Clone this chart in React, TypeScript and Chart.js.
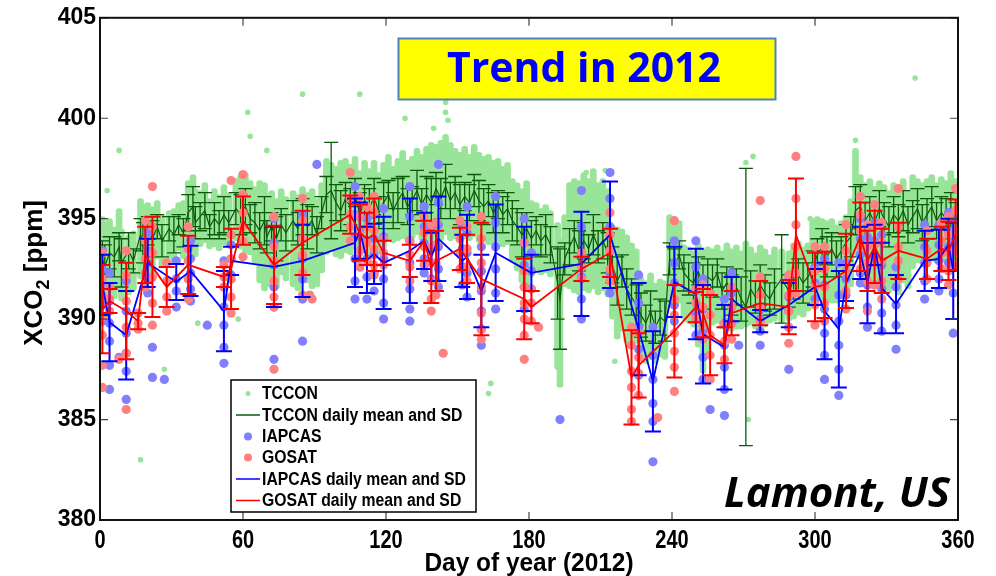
import React, { useEffect, useRef } from "react";
import { Chart, registerables } from "chart.js";

Chart.register(...registerables);

// ---------------- data ----------------
const xTickValues = [0, 60, 120, 180, 240, 300, 360];
const yTickValues = [380, 385, 390, 395, 400, 405];

// TCCON daily statistics (day of year, mean, SD) and the extent of the dense dot column per day
const tcconDays = [
  1, 2, 4, 6, 8, 9, 12, 14, 17, 18,
  20, 22, 24, 26, 29, 31, 33, 35, 37, 39,
  40, 42, 44, 46, 48, 50, 52, 54, 57, 59,
  61, 63, 65, 67, 69, 70, 72, 74, 76, 78,
  81, 83, 85, 87, 89, 91, 93, 95, 97, 99,
  101, 103, 105, 107, 109, 111, 113, 115, 117, 119,
  121, 123, 125, 127, 129, 131, 133, 135, 137, 139,
  141, 143, 145, 147, 149, 151, 153, 155, 157, 159,
  161, 163, 165, 167, 169, 171, 173, 175, 177, 179,
  181, 183, 185, 187, 189, 192, 193, 195, 197, 199,
  201, 203, 205, 207, 209, 211, 213, 215, 217, 219,
  221, 223, 225, 227, 229, 231, 233, 235, 237, 239,
  241, 243, 245, 247, 249, 251, 253, 255, 257, 259,
  261, 263, 265, 267, 269, 271, 273, 275, 277, 279,
  281, 283, 286, 289, 291, 293, 295, 297, 299, 301,
  303, 305, 307, 309, 311, 313, 315, 317, 319, 321,
  323, 325, 327, 329, 331, 333, 335, 337, 339, 341,
  343, 345, 347, 349, 351, 353, 355, 357, 359,
];
const tcconMean = [
  393.0, 392.6, 393.3, 393.1, 393.6, 392.8, 393.4, 392.9, 394.2, 393.8,
  394.4, 394.0, 394.6, 393.9, 394.5, 394.2, 394.7, 394.3, 395.3, 395.6,
  394.8, 395.1, 395.4, 394.6, 395.0, 394.7, 395.2, 394.8, 395.5, 395.2,
  395.6, 395.0, 394.8, 394.4, 394.9, 394.1, 394.6, 394.0, 394.7, 394.3,
  394.9, 394.5, 395.1, 394.6, 394.9, 394.2, 395.3, 396.2, 396.4, 395.8,
  395.4, 396.0, 395.6, 396.3, 395.2, 395.9, 395.5, 396.1, 395.3, 395.8,
  396.2, 395.4, 395.9, 396.3, 395.6, 395.9, 396.4, 395.7, 396.2, 395.8,
  396.5, 396.0, 396.6, 395.9, 396.3, 395.7, 396.1, 395.8, 396.4, 395.9,
  395.6, 395.9, 395.3, 395.7, 395.2, 395.5, 394.9, 394.6, 394.2, 394.5,
  394.0, 394.4, 393.9, 394.2, 393.7, 391.8, 391.0, 393.0, 393.6, 394.1,
  393.4, 393.9, 393.5, 394.2, 393.6, 393.9, 393.3, 392.7, 391.9, 392.4,
  391.5, 391.1, 390.7, 390.2, 389.8, 390.4, 389.6, 390.1, 389.9, 393.0,
  392.6, 393.2, 392.3, 392.0, 391.8, 392.4, 391.6, 392.1, 391.9, 392.3,
  391.4, 391.8, 391.2, 391.6, 391.0, 390.6, 391.5, 391.1, 391.7, 391.3,
  391.0, 391.5, 392.0, 391.4, 391.9, 392.2, 391.8, 392.1, 392.5, 393.2,
  393.6, 393.1, 393.5, 393.0, 393.4, 393.8, 394.1, 395.4, 395.6, 394.9,
  395.3, 394.8, 395.5, 395.0, 394.6, 395.2, 394.9, 395.4, 394.7, 395.1,
  395.5, 394.8, 395.2, 395.6, 394.9, 395.3, 395.0, 395.4, 394.8,
];
const tcconSD = [
  0.9, 1.1, 0.8, 1.0, 0.7, 1.2, 0.9, 0.6, 0.8, 1.0,
  0.7, 0.9, 0.6, 0.8, 0.6, 0.9, 0.5, 0.7, 0.9, 1.0,
  0.8, 0.7, 0.9, 0.6, 0.8, 0.7, 0.9, 0.6, 0.8, 1.0,
  0.9, 0.7, 1.0, 0.9, 1.2, 0.8, 0.7, 1.1, 0.8, 0.9,
  1.0, 0.8, 0.9, 1.1, 0.7, 0.9, 0.8, 0.9, 2.4, 0.9,
  1.0, 0.8, 0.9, 0.7, 1.1, 0.8, 1.0, 0.9, 0.8, 1.0,
  0.7, 0.9, 1.1, 0.8, 0.9, 0.7, 1.0, 0.8, 0.9, 1.2,
  0.8, 1.0, 1.1, 0.9, 0.8, 1.0, 0.7, 0.9, 0.8, 1.0,
  0.9, 0.8, 1.0, 0.7, 0.9, 0.8, 1.0, 0.9, 1.1, 0.8,
  0.9, 0.7, 0.8, 1.0, 0.9, 1.8, 2.5, 0.8, 0.9, 0.8,
  1.0, 0.9, 0.7, 1.0, 0.8, 0.9, 1.0, 0.9, 1.2, 0.8,
  1.0, 0.9, 1.0, 1.1, 0.9, 1.0, 0.8, 0.9, 1.0, 0.8,
  0.9, 0.7, 0.9, 0.8, 1.0, 0.7, 1.1, 0.9, 0.8, 0.7,
  0.9, 0.8, 1.0, 0.9, 1.1, 6.9, 0.9, 0.8, 1.0, 0.9,
  0.8, 1.0, 2.2, 0.8, 0.9, 0.8, 1.0, 0.7, 0.9, 0.8,
  0.9, 1.0, 0.8, 0.9, 0.7, 0.9, 1.0, 1.2, 1.1, 0.9,
  0.8, 1.0, 0.9, 0.8, 1.0, 0.9, 0.8, 1.0, 0.9, 0.8,
  1.0, 0.9, 0.8, 1.0, 0.9, 0.8, 1.0, 0.9, 1.0,
];
const tcconLo = [
  390.8, 390.5, 391.2, 391.0, 391.5, 390.9, 391.2, 391.4, 392.0, 392.1,
  392.4, 392.3, 393.0, 392.6, 393.0, 392.8, 393.4, 393.0, 393.5, 393.6,
  393.1, 393.6, 393.8, 393.5, 393.6, 393.4, 393.7, 393.6, 393.9, 393.5,
  393.3, 393.2, 392.8, 391.8, 391.4, 391.6, 392.0, 391.5, 392.2, 391.9,
  391.6, 391.4, 392.0, 391.8, 391.5, 391.6, 392.3, 393.2, 393.4, 393.1,
  393.0, 393.3, 393.2, 393.5, 393.1, 393.4, 393.2, 393.6, 393.3, 393.5,
  393.9, 393.8, 393.9, 394.0, 393.9, 394.0, 394.2, 393.9, 394.0, 393.8,
  394.1, 393.9, 394.2, 393.9, 394.0, 393.8, 394.0, 393.9, 394.1, 393.8,
  393.9, 393.7, 393.7, 393.8, 393.6, 393.7, 392.9, 392.4, 391.8, 391.4,
  392.1, 392.4, 392.2, 392.3, 392.1, 387.5, 386.6, 391.6, 391.5, 391.3,
  391.2, 391.4, 391.3, 391.5, 391.2, 391.4, 391.1, 390.0, 389.0, 389.4,
  388.8, 388.9, 388.8, 388.2, 387.8, 388.0, 387.8, 388.1, 388.0, 390.6,
  390.5, 390.8, 390.0, 389.8, 389.6, 388.6, 387.3, 388.2, 389.7, 389.8,
  389.5, 389.6, 389.4, 389.5, 389.5, 389.6, 389.7, 389.5, 389.8, 389.6,
  389.8, 389.9, 389.8, 389.9, 390.0, 390.2, 390.1, 390.4, 391.0, 391.1,
  391.0, 390.9, 390.8, 390.8, 391.0, 391.2, 391.6, 393.1, 393.0, 392.0,
  391.8, 391.6, 391.7, 391.5, 391.3, 391.6, 391.2, 391.8, 391.5, 392.5,
  392.8, 392.7, 392.7, 392.9, 392.8, 392.9, 392.8, 393.0, 392.9,
];
const tcconHi = [
  395.1, 394.8, 395.0, 394.6, 395.5, 394.5, 394.2, 394.4, 396.0, 395.7,
  395.8, 395.6, 395.9, 395.2, 395.4, 395.5, 395.8, 395.9, 396.9, 397.2,
  396.5, 396.4, 396.8, 396.0, 396.5, 396.2, 396.7, 396.3, 397.0, 397.2,
  397.3, 396.9, 396.6, 396.9, 396.8, 396.2, 396.4, 396.0, 396.5, 396.1,
  396.4, 396.2, 396.6, 396.3, 396.5, 396.0, 396.8, 398.0, 397.8, 397.6,
  397.9, 398.0, 397.7, 398.1, 397.4, 397.9, 397.5, 397.9, 397.3, 397.8,
  398.2, 397.6, 398.0, 398.4, 397.9, 398.1, 398.5, 398.2, 398.6, 398.8,
  398.7, 398.9, 399.2, 398.8, 398.5, 398.3, 398.6, 398.2, 398.7, 398.3,
  398.1, 398.2, 397.9, 398.0, 397.6, 397.8, 397.0, 396.8, 396.5, 396.9,
  395.9, 395.8, 395.5, 395.7, 395.4, 394.8, 394.0, 395.2, 396.8, 397.0,
  396.9, 397.3, 397.0, 397.5, 396.8, 397.0, 396.5, 394.7, 394.6, 394.5,
  394.2, 393.8, 393.5, 392.1, 391.9, 392.3, 391.8, 392.0, 391.9, 395.2,
  395.0, 394.9, 393.7, 393.6, 393.4, 393.8, 393.5, 393.6, 393.5, 393.7,
  393.4, 393.8, 393.5, 393.7, 393.4, 393.9, 393.6, 393.3, 393.7, 393.5,
  393.2, 393.6, 393.5, 393.4, 393.8, 393.9, 393.6, 393.8, 395.0, 395.1,
  395.0, 394.9, 395.0, 394.7, 394.9, 395.2, 396.0, 398.5, 397.2, 396.8,
  397.0, 396.6, 396.9, 396.7, 396.4, 396.8, 396.5, 397.0, 396.4, 397.2,
  397.0, 396.8, 397.0, 397.2, 396.8, 397.1, 396.9, 397.4, 397.0,
];
// isolated TCCON soundings away from the dense columns
const tcconOutDays = [3, 8, 17, 27, 41, 58, 62, 63, 70, 85, 109, 128, 140, 145, 145, 146, 164, 163, 204, 212, 216, 271, 274, 272, 298, 317, 342];
const tcconOutVals = [396.4, 398.4, 383.0, 387.5, 389.8, 390.0, 400.3, 399.1, 398.4, 401.2, 401.2, 400.0, 399.5, 400.8, 400.3, 399.9, 386.8, 386.3, 397.3, 397.4, 387.9, 397.8, 398.1, 385.0, 395.0, 398.9, 402.0];

// IAPCAS daily statistics and the soundings of each day
const iapcasDays = [
  1, 4, 11, 20, 32, 38, 52, 55, 73, 85,
  107, 109, 112, 115, 119, 130, 136, 139, 142, 152,
  154, 160, 166, 178, 181, 202, 214, 226, 232, 241,
  250, 253, 262, 265, 277, 289, 300, 304, 310, 313,
  319, 322, 325, 328, 334, 346, 352, 356, 358,
];
const iapcasMean = [
  391.7, 389.85, 389.2, 392.8, 391.85, 392.4, 390.4, 392.9, 392.6, 392.9,
  393.8, 394.4, 392.95, 393.25, 392.8, 393.4, 393.9, 393.1, 394.0, 392.9,
  393.1, 391.4, 393.3, 392.5, 392.3, 392.75, 394.2, 389.5, 386.9, 391.85,
  391.25, 389.25, 388.6, 391.0, 389.9, 390.7, 391.6, 390.4, 389.5, 391.8,
  393.3, 391.8, 393.7, 391.55, 390.75, 392.9, 393.0, 393.7, 392.4,
];
const iapcasSD = [
  1.5, 1.95, 2.2, 1.2, 0.9, 1.25, 2.0, 0.7, 2.0, 1.8,
  2.2, 1.4, 1.65, 1.5, 2.3, 2.6, 1.4, 1.2, 2.1, 1.3,
  2.1, 1.8, 2.4, 2.1, 0.9, 2.6, 2.65, 2.3, 2.5, 1.75,
  2.25, 2.45, 2.1, 1.1, 0.55, 1.1, 0.9, 2.4, 2.9, 0.9,
  1.3, 2.0, 1.0, 2.25, 1.45, 1.5, 1.45, 1.3, 2.4,
];
const iapcasObs = [
  [393.4, 392.5, 391.7, 390.7, 389.9], [392.3, 390.9, 389.8, 388.9, 387.7, 386.5],
  [391.9, 390.4, 389.3, 388.3, 387.4, 386.0], [394.3, 393.4, 392.8, 392.0, 391.3],
  [392.9, 392.0, 391.4, 390.6], [393.9, 393.0, 392.3, 391.5, 390.9],
  [392.9, 391.6, 390.6, 389.7, 388.6, 387.8], [393.7, 393.0, 392.2],
  [395.0, 393.8, 392.7, 391.6, 390.6, 388.0], [395.2, 394.0, 393.0, 392.0, 391.0, 388.9],
  [396.6, 395.2, 394.1, 393.0, 391.9, 391.0], [396.1, 395.1, 394.3, 393.4, 392.6],
  [395.0, 393.9, 393.0, 392.1, 391.0], [395.2, 394.0, 393.2, 392.3, 391.4],
  [395.5, 394.1, 393.0, 392.0, 390.8, 390.0], [396.6, 395.1, 393.9, 392.8, 391.5, 390.5, 389.9],
  [395.6, 394.6, 393.8, 393.0, 392.3], [394.6, 393.5, 392.8, 392.0],
  [397.7, 395.8, 394.7, 393.6, 392.5, 391.6], [394.6, 393.5, 392.6, 391.7],
  [395.6, 394.3, 393.3, 392.3, 391.1], [393.6, 392.4, 391.4, 390.4, 389.5, 388.7],
  [396.1, 394.8, 393.6, 392.5, 391.3, 390.5], [395.0, 393.8, 392.7, 391.6, 390.5],
  [393.3, 392.4, 391.5], [396.4, 394.6, 393.2, 392.1, 391.0, 390.0],
  [397.3, 396.0, 394.6, 393.4, 392.3, 391.3], [392.2, 390.8, 389.6, 388.5, 387.2],
  [389.6, 388.2, 387.0, 385.8, 384.9, 382.9], [393.9, 392.8, 391.8, 390.7, 389.9],
  [393.9, 392.6, 391.4, 390.2, 389.2], [392.0, 390.5, 389.4, 388.1, 387.0],
  [391.0, 389.8, 388.7, 387.6, 386.5, 385.2], [392.3, 391.3, 390.6, 389.8],
  [390.5, 390.0, 389.4, 388.7], [392.0, 391.1, 390.4, 389.6, 387.5],
  [392.6, 391.8, 391.0], [393.0, 391.7, 390.5, 389.3, 388.2, 387.0],
  [392.8, 391.2, 389.9, 388.7, 387.5, 386.2], [392.8, 392.0, 391.2],
  [395.0, 394.0, 393.2, 392.3, 391.8], [394.1, 392.8, 391.7, 390.6, 389.6],
  [394.8, 393.9, 393.1], [394.2, 392.7, 391.5, 390.3, 389.4],
  [392.6, 391.6, 390.7, 389.7, 388.5], [394.7, 393.6, 392.8, 391.9, 391.0],
  [394.7, 393.7, 392.9, 392.0, 391.4], [395.3, 394.4, 393.6, 392.8],
  [395.0, 393.8, 392.6, 391.3, 389.3],
];
const iapcasExtraDays = [22, 22, 27, 45, 91, 193, 256, 268, 8];
const iapcasExtraVals = [388.6, 387.1, 387.0, 389.7, 397.7, 385.0, 385.5, 388.7, 388.1];

// GOSAT daily statistics and the soundings of each day
const gosatDays = [
  1, 4, 11, 16, 19, 22, 28, 37, 52, 55,
  60, 73, 85, 105, 109, 112, 115, 119, 130, 136,
  139, 141, 151, 154, 160, 178, 181, 202, 214, 223,
  226, 241, 250, 253, 256, 262, 265, 277, 289, 292,
  300, 304, 313, 319, 322, 325, 328, 335, 347, 353,
  356, 359,
];
const gosatMean = [
  390.5, 390.9, 390.4, 389.9, 393.2, 392.6, 391.6, 392.7, 392.1, 392.5,
  394.9, 392.7, 393.8, 395.2, 394.3, 394.0, 394.2, 393.3, 392.9, 393.9,
  392.6, 392.9, 393.5, 393.0, 392.0, 391.0, 390.6, 392.5, 393.3, 387.1,
  387.7, 389.4, 390.6, 390.3, 389.2, 388.7, 390.3, 390.8, 390.6, 394.2,
  391.6, 391.7, 392.4, 394.1, 392.9, 393.6, 392.9, 393.4, 393.0, 393.5,
  393.4, 394.2,
];
const gosatSD = [
  2.2, 0.6, 2.4, 0.4, 1.4, 2.5, 1.0, 1.45, 0.5, 2.0,
  1.2, 1.95, 1.6, 0.95, 1.4, 1.3, 1.8, 0.6, 0.8, 1.0,
  1.8, 1.5, 1.05, 1.2, 2.8, 2.0, 0.8, 0.6, 1.2, 2.35,
  1.6, 2.3, 0.75, 1.2, 2.0, 0.9, 1.1, 1.1, 1.35, 2.8,
  1.7, 1.65, 1.85, 1.7, 1.5, 1.8, 1.6, 1.4, 1.0, 1.1,
  1.45, 1.75,
];
const gosatObs = [
  [393.3, 392.0, 391.2, 390.1, 389.2, 387.7, 386.6], [391.6, 391.0, 390.4],
  [393.4, 392.2, 390.9, 389.6, 388.3, 385.5], [390.3, 389.8, 389.5],
  [394.9, 393.9, 393.0, 392.3, 391.6], [396.6, 394.6, 393.3, 392.1, 390.8, 389.7],
  [392.8, 391.9, 391.1, 390.4], [394.6, 393.5, 392.9, 392.0, 391.0],
  [392.7, 392.1, 391.6], [396.9, 394.2, 393.0, 392.0, 391.1, 390.3],
  [397.2, 396.2, 395.3, 394.6, 393.9, 393.1], [395.1, 393.6, 392.9, 391.9, 391.1, 390.6, 387.5],
  [396.0, 394.9, 394.0, 393.2, 392.3, 391.2], [397.3, 396.0, 395.2, 394.6, 393.9],
  [396.1, 395.1, 394.2, 393.4, 392.6], [395.6, 394.6, 393.8, 392.9],
  [396.1, 395.3, 394.4, 393.5, 392.7, 392.2], [394.0, 393.3, 392.7],
  [393.9, 393.2, 392.6, 391.9], [395.1, 394.3, 393.6, 392.7],
  [394.7, 393.6, 392.8, 391.9, 391.0, 390.4], [394.8, 393.7, 392.8, 391.9, 391.2],
  [394.9, 394.0, 393.3, 392.5], [394.6, 393.5, 392.6, 391.9],
  [395.1, 394.0, 392.8, 391.6, 390.3, 389.5, 389.0], [393.8, 392.4, 391.6, 390.8, 390.0, 389.2, 388.0],
  [391.5, 390.8, 389.9], [393.3, 392.6, 392.0],
  [395.3, 394.2, 393.4, 392.5, 391.9], [389.6, 388.7, 387.4, 386.6, 385.5, 384.9],
  [389.3, 388.1, 387.3, 386.2], [394.9, 391.0, 390.2, 389.3, 388.4, 387.6, 386.4],
  [391.5, 390.8, 390.0], [391.7, 390.6, 389.7, 389.0],
  [391.3, 390.2, 389.2, 388.2, 387.0], [389.8, 388.9, 388.0],
  [391.6, 390.6, 389.8, 389.0], [395.9, 392.1, 391.2, 390.6, 389.9],
  [392.2, 391.2, 390.4, 389.6, 388.8], [398.1, 396.0, 394.7, 393.6, 392.3, 391.3],
  [393.6, 392.4, 391.6, 390.7, 389.7], [393.6, 392.5, 391.6, 390.8, 389.9],
  [394.7, 393.4, 392.4, 391.4, 390.5], [396.1, 395.2, 394.4, 393.6, 392.5],
  [394.7, 393.6, 392.8, 391.9, 390.4], [395.7, 394.6, 393.7, 392.8, 391.7],
  [394.8, 393.8, 392.9, 391.9, 391.0], [396.5, 394.6, 393.6, 392.9, 392.0],
  [394.4, 393.4, 392.8, 392.0], [394.8, 393.9, 393.3, 392.5],
  [395.1, 394.2, 393.3, 392.4, 391.7], [396.5, 395.4, 394.4, 393.4, 392.6],
];
const gosatExtraDays = [88, 89, 144, 184, 234, 8];
const gosatExtraVals = [391.2, 391.0, 388.3, 389.6, 385.1, 388.0];

const legendLabels = [
  "TCCON",
  "TCCON daily mean and SD",
  "IAPCAS",
  "GOSAT",
  "IAPCAS daily mean and SD",
  "GOSAT daily mean and SD",
];
const titleText = "Trend in 2012";
const siteText = "Lamont, US";
const xAxisTitle = "Day of year (2012)";

// ---------------- styles ----------------
const C_TCCON_DOT = "rgb(152,228,152)";
const C_TCCON_LINE = "#0a5a0a";
const C_IAP_DOT = "rgb(128,128,255)";
const C_IAP_LINE = "#0000ff";
const C_GOS_DOT = "rgb(255,128,128)";
const C_GOS_LINE = "#ff0000";

const pts = (days: number[], vals: number[]) => days.map((d, i) => ({ x: d, y: vals[i] }));
const obsPts = (days: number[], obs: number[][], exDays: number[], exVals: number[]) => {
  const out: { x: number; y: number }[] = [];
  days.forEach((d, i) => obs[i].forEach((v) => out.push({ x: d, y: v })));
  exDays.forEach((d, i) => out.push({ x: d, y: exVals[i] }));
  return out;
};

const errorBarPlugin = {
  id: "errorBars",
  afterDatasetDraw(chart: any, args: any) {
    const ds: any = chart.data.datasets[args.index];
    if (!ds.errSD) return;
    const { ctx, chartArea: a, scales } = chart;
    const xs = scales.x;
    const ys = scales.y;
    ctx.save();
    ctx.beginPath();
    ctx.rect(a.left, a.top, a.right - a.left, a.bottom - a.top);
    ctx.clip();
    ctx.strokeStyle = ds.borderColor;
    ctx.lineWidth = ds.errLineWidth;
    ctx.beginPath();
    ds.data.forEach((p: any, i: number) => {
      const x = xs.getPixelForValue(p.x);
      const yt = ys.getPixelForValue(p.y + ds.errSD[i]);
      const yb = ys.getPixelForValue(p.y - ds.errSD[i]);
      const c = ds.errCap;
      ctx.moveTo(x, yt);
      ctx.lineTo(x, yb);
      ctx.moveTo(x - c, yt);
      ctx.lineTo(x + c, yt);
      ctx.moveTo(x - c, yb);
      ctx.lineTo(x + c, yb);
    });
    ctx.stroke();
    ctx.restore();
  },
};

const decorPlugin = {
  id: "decor",
  afterDatasetsDraw(chart: any) {
    const { ctx, chartArea: a, scales } = chart;
    const xs = scales.x;
    const ys = scales.y;
    ctx.save();
    // inward ticks on all four sides
    ctx.strokeStyle = "#444";
    ctx.lineWidth = 1.2;
    const tl = 8;
    ctx.beginPath();
    xTickValues.forEach((v) => {
      const x = xs.getPixelForValue(v);
      ctx.moveTo(x, a.bottom);
      ctx.lineTo(x, a.bottom - tl);
      ctx.moveTo(x, a.top);
      ctx.lineTo(x, a.top + tl);
    });
    yTickValues.forEach((v) => {
      const y = ys.getPixelForValue(v);
      ctx.moveTo(a.left, y);
      ctx.lineTo(a.left + tl, y);
      ctx.moveTo(a.right, y);
      ctx.lineTo(a.right - tl, y);
    });
    ctx.stroke();
    // frame
    ctx.strokeStyle = "#111";
    ctx.lineWidth = 2;
    ctx.strokeRect(a.left, a.top, a.right - a.left, a.bottom - a.top);

    // x tick labels (narrow bold)
    ctx.fillStyle = "#000";
    ctx.textAlign = "center";
    ctx.textBaseline = "middle";
    ctx.font = "bold 25px 'Liberation Sans', Arial, sans-serif";
    xTickValues.forEach((v) => {
      const x = xs.getPixelForValue(v);
      ctx.save();
      ctx.translate(x, a.bottom + 21);
      ctx.scale(0.8, 1);
      ctx.fillText(String(v), 0, 0);
      ctx.restore();
    });
    // x title
    ctx.save();
    ctx.translate((a.left + a.right) / 2, a.bottom + 44);
    ctx.scale(0.94, 1);
    ctx.font = "bold 26px 'Liberation Sans', Arial, sans-serif";
    ctx.fillText(xAxisTitle, 0, 0);
    ctx.restore();

    // y title XCO2 [ppm]
    ctx.save();
    ctx.translate(33, (a.top + a.bottom) / 2 + 4);
    ctx.rotate(-Math.PI / 2);
    ctx.textAlign = "left";
    ctx.textBaseline = "alphabetic";
    const fBig = "bold 26px 'Liberation Sans', Arial, sans-serif";
    const fSmall = "bold 18px 'Liberation Sans', Arial, sans-serif";
    ctx.font = fBig;
    const w1 = ctx.measureText("XCO").width;
    const w3 = ctx.measureText(" [ppm]").width;
    ctx.font = fSmall;
    const w2 = ctx.measureText("2").width;
    const total = w1 + w2 + w3;
    let cx = -total / 2;
    ctx.font = fBig;
    ctx.fillText("XCO", cx, 9);
    cx += w1;
    ctx.font = fSmall;
    ctx.fillText("2", cx, 16);
    cx += w2;
    ctx.font = fBig;
    ctx.fillText(" [ppm]", cx, 9);
    ctx.restore();

    // title box
    ctx.fillStyle = "#ffff00";
    ctx.fillRect(398.5, 38.5, 377, 61);
    ctx.strokeStyle = "#4f81bd";
    ctx.lineWidth = 2;
    ctx.strokeRect(398.5, 38.5, 377, 61);
    ctx.fillStyle = "#0000ff";
    ctx.textAlign = "center";
    ctx.textBaseline = "middle";
    ctx.font = "bold 41px 'Open Sans', Lato, sans-serif";
    ctx.fillText(titleText, 584, 70);

    // site label
    ctx.fillStyle = "#000";
    ctx.textAlign = "right";
    ctx.textBaseline = "alphabetic";
    ctx.font = "italic bold 42px 'Open Sans', Lato, sans-serif";
    ctx.fillText(siteText, 950, 507);

    // legend
    const lx = 231, ly = 380, lw = 245, lh = 132;
    ctx.fillStyle = "#fff";
    ctx.fillRect(lx, ly, lw, lh);
    ctx.strokeStyle = "#000";
    ctx.lineWidth = 1.5;
    ctx.strokeRect(lx, ly, lw, lh);
    const rows = [393.5, 415, 436.5, 457.5, 479, 500.5];
    const kinds = ["dot", "line", "dot", "dot", "line", "line"];
    const colors = [C_TCCON_DOT, C_TCCON_LINE, C_IAP_DOT, C_GOS_DOT, C_IAP_LINE, C_GOS_LINE];
    const radii = [2.5, 0, 4, 4, 0, 0];
    rows.forEach((y, i) => {
      if (kinds[i] === "dot") {
        ctx.fillStyle = colors[i];
        ctx.beginPath();
        ctx.arc(248, y, radii[i], 0, Math.PI * 2);
        ctx.fill();
      } else {
        ctx.strokeStyle = colors[i];
        ctx.lineWidth = 1.5;
        ctx.beginPath();
        ctx.moveTo(236, y);
        ctx.lineTo(260, y);
        ctx.stroke();
      }
      ctx.save();
      ctx.translate(262, y + 1);
      ctx.scale(0.9, 1);
      ctx.fillStyle = "#000";
      ctx.textAlign = "left";
      ctx.textBaseline = "middle";
      ctx.font = "bold 17.5px 'Liberation Sans', Arial, sans-serif";
      ctx.fillText(legendLabels[i], 0, 0);
      ctx.restore();
    });
    ctx.restore();
  },
};

export default function App() {
  const canvasRef = useRef<HTMLCanvasElement | null>(null);

  useEffect(() => {
    document.body.style.margin = "0";
    const canvas = canvasRef.current;
    if (!canvas) return;

    const chart = new Chart(canvas, {
      type: "scatter",
      data: {
        datasets: [
          {
            type: "line",
            label: legendLabels[5],
            data: pts(gosatDays, gosatMean),
            borderColor: C_GOS_LINE,
            borderWidth: 1.8,
            pointRadius: 0,
            showLine: true,
            tension: 0,
            order: 1,
            errSD: gosatSD,
            errCap: 8,
            errLineWidth: 2,
          } as any,
          {
            type: "line",
            label: legendLabels[4],
            data: pts(iapcasDays, iapcasMean),
            borderColor: C_IAP_LINE,
            borderWidth: 1.8,
            pointRadius: 0,
            showLine: true,
            tension: 0,
            order: 2,
            errSD: iapcasSD,
            errCap: 8,
            errLineWidth: 2,
          } as any,
          {
            type: "scatter",
            label: legendLabels[3],
            data: obsPts(gosatDays, gosatObs, gosatExtraDays, gosatExtraVals),
            backgroundColor: C_GOS_DOT,
            borderWidth: 0,
            pointRadius: 4.6,
            order: 3,
          },
          {
            type: "scatter",
            label: legendLabels[2],
            data: obsPts(iapcasDays, iapcasObs, iapcasExtraDays, iapcasExtraVals),
            backgroundColor: C_IAP_DOT,
            borderWidth: 0,
            pointRadius: 4.6,
            order: 4,
          },
          {
            type: "line",
            label: legendLabels[1],
            data: pts(tcconDays, tcconMean),
            borderColor: C_TCCON_LINE,
            borderWidth: 1.2,
            pointRadius: 0,
            showLine: true,
            tension: 0,
            order: 5,
            errSD: tcconSD,
            errCap: 7,
            errLineWidth: 1.3,
          } as any,
          {
            type: "scatter",
            label: legendLabels[0],
            data: pts(tcconOutDays, tcconOutVals),
            backgroundColor: C_TCCON_DOT,
            borderWidth: 0,
            pointRadius: 2.8,
            order: 6,
          },
          {
            type: "bar",
            label: "TCCON soundings",
            data: tcconDays.map((d, i) => ({ x: d, y: [tcconLo[i], tcconHi[i]] })) as any,
            backgroundColor: C_TCCON_DOT,
            barThickness: 6,
            borderRadius: 3,
            borderSkipped: false,
            grouped: false,
            order: 7,
          } as any,
        ],
      },
      options: {
        responsive: false,
        animation: false,
        devicePixelRatio: 1,
        events: [],
        layout: { padding: { top: 17, right: 38, left: 0, bottom: 0 } },
        plugins: {
          legend: { display: false },
          tooltip: { enabled: false },
          title: { display: false },
        },
        scales: {
          x: {
            type: "linear",
            min: 0,
            max: 360,
            offset: false,
            grid: { display: false },
            border: { display: false },
            ticks: { display: false, stepSize: 60 },
            afterFit: (s: any) => {
              s.height = 56;
            },
          },
          y: {
            type: "linear",
            min: 380,
            max: 405,
            grid: { display: false, drawTicks: false },
            border: { display: false },
            ticks: {
              stepSize: 5,
              color: "#000",
              padding: 4,
              font: { family: "'Liberation Sans', Arial, sans-serif", size: 23, weight: "bold" },
            },
            afterFit: (s: any) => {
              s.width = 100;
            },
          },
        },
      },
      plugins: [errorBarPlugin, decorPlugin],
    });

    return () => chart.destroy();
  }, []);

  return (
    <div style={{ width: 996, height: 576, background: "#fff" }}>
      <canvas ref={canvasRef} width={996} height={576} style={{ display: "block" }} />
    </div>
  );
}
